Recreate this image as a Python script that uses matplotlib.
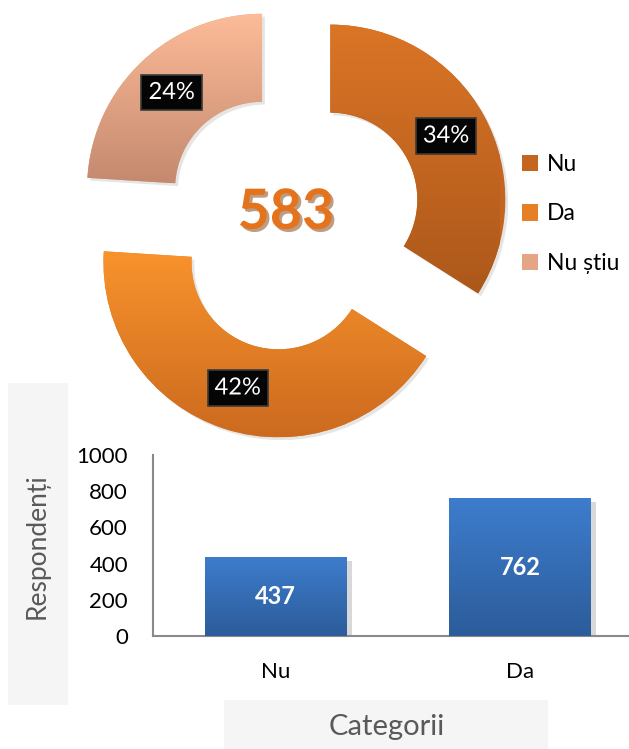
import numpy as np
import matplotlib
matplotlib.use("Agg")
import matplotlib.pyplot as plt
from matplotlib.colors import LinearSegmentedColormap
from matplotlib.patches import Patch, Rectangle
import matplotlib.patheffects as pe

plt.rcParams['font.family'] = ['Lato', 'DejaVu Sans']

# ---- data ----
donut_labels = ["Nu", "Da", "Nu știu"]
donut_values = [34, 42, 24]
center_total = "583"
bar_categories = ["Nu", "Da"]
bar_values = [437, 762]
y_ticks = [0, 200, 400, 600, 800, 1000]
y_label = "Respondenți"
x_label = "Categorii"

# ---- styles ----
donut_top = ["#DB7526", "#F8932C", "#FDBC98"]
donut_bot = ["#AC581B", "#CC6A1F", "#C4896F"]
donut_mid = ["#C4661F", "#E68026", "#E3A585"]
bar_top, bar_bot = "#3D7DCD", "#2C5C9A"

W, H = 629, 749
fig = plt.figure(figsize=(W / 100, H / 100), dpi=100)
fig.patch.set_facecolor("white")


def fx(px):
    return px / W


def fy(py):
    return 1 - py / H


def grad_fill(ax, patch, ctop, cbot, extent, z):
    cmap = LinearSegmentedColormap.from_list("g", [cbot, ctop])
    arr = np.linspace(0, 1, 256).reshape(-1, 1)
    im = ax.imshow(arr, cmap=cmap, extent=extent, origin="lower",
                   aspect="auto", zorder=z, interpolation="bicubic")
    im.set_clip_path(patch)
    return im


# background label boxes
fig.patches.append(Rectangle((fx(8), fy(705)), fx(60), (705 - 383) / H,
                             transform=fig.transFigure, fc="#F5F5F5", ec="none", zorder=0))
fig.patches.append(Rectangle((fx(224), fy(749)), fx(324), 49 / H,
                             transform=fig.transFigure, fc="#F5F5F5", ec="none", zorder=0))

# ---- donut ----
R_px = 175.0
cx_px, cy_px = 292.0, 220.7
axp = fig.add_axes([0, fy(445), fx(500), 445 / H])
wedges, texts, autotexts = axp.pie(
    donut_values, explode=[0.25] * 3, startangle=90, counterclock=False,
    radius=1, colors=donut_mid, autopct=lambda p: f"{p:.0f}%",
    pctdistance=0.755, wedgeprops=dict(width=0.503, edgecolor="none"),
    textprops=dict(color="white", fontsize=17))
for w, ct, cb in zip(wedges, donut_top, donut_bot):
    w.set_zorder(1)
    w.set_path_effects([pe.SimplePatchShadow(offset=(2, -2), shadow_rgbFace="#999999", alpha=0.25),
                        pe.Normal()])
    ext = w.get_path().get_extents()
    grad_fill(axp, w, ct, cb, (ext.x0, ext.x1, ext.y0, ext.y1), 2)
for t in autotexts:
    t.set_zorder(5)
    t.set_bbox(dict(boxstyle="square,pad=0.3", fc="#050505", ec="#3a3a3a", lw=1.2))
    t.set_path_effects([pe.Normal()])

axp.text(-0.035, 0.045, center_total, ha="center", va="center", fontsize=40,
         fontweight="bold", color="#E5731C", zorder=6,
         path_effects=[pe.withSimplePatchShadow(offset=(2, -2), shadow_rgbFace="#7a3a08", alpha=0.5)])
axp.set_xlim(-cx_px / R_px, (500 - cx_px) / R_px)
axp.set_ylim(-(445 - cy_px) / R_px, cy_px / R_px)
axp.set_aspect("auto")
axp.axis("off")

fig.legend([Patch(fc=c, ec="none") for c in donut_mid], donut_labels,
           loc="center left", bbox_to_anchor=(fx(522), fy(214)), frameon=False,
           handlelength=0.7, handleheight=0.7, handletextpad=0.4,
           labelspacing=1.25, fontsize=16.5, borderaxespad=0, borderpad=0)

# ---- bar chart ----
axb = fig.add_axes([fx(153), fy(636), fx(476), 181 / H])
xs = np.arange(len(bar_categories))
bars = axb.bar(xs, bar_values, width=0.577, color=bar_bot, zorder=2)
for b in bars:
    b.set_path_effects([pe.SimplePatchShadow(offset=(4, -3), shadow_rgbFace="#808080", alpha=0.3),
                        pe.Normal()])
    grad_fill(axb, b, bar_top, bar_bot,
              (b.get_x(), b.get_x() + b.get_width(), 0, b.get_height()), 3)
axb.bar_label(bars, label_type="center", color="white", fontsize=17,
              fontweight="bold", zorder=5)
axb.set_xlim(-0.501, 1.446)
axb.set_ylim(0, 1000)
axb.set_yticks(y_ticks)
axb.set_xticks(xs)
axb.set_xticklabels(bar_categories)
axb.tick_params(axis="both", length=0, labelsize=16, colors="black")
axb.tick_params(axis="y", pad=18)
axb.tick_params(axis="x", pad=19, labelsize=16)
for s in ["top", "right"]:
    axb.spines[s].set_visible(False)
for s in ["left", "bottom"]:
    axb.spines[s].set_color("#8A8A8A")
    axb.spines[s].set_linewidth(1.5)
axb.set_facecolor("none")

fig.text(fx(37), fy(546), y_label, rotation=90, ha="center", va="center",
         fontsize=19, color="#595959")
fig.text(fx(387), fy(727), x_label, ha="center", va="center",
         fontsize=21, color="#595959")

fig.savefig("out.png", dpi=100)
